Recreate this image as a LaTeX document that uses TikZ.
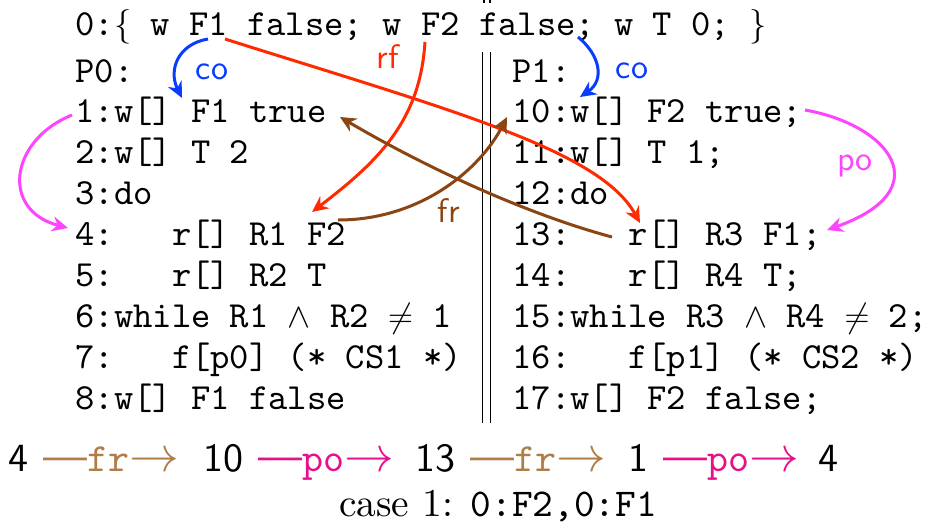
\documentclass[tikz,border=0pt]{standalone}
\usepackage{fontspec}
\setmainfont{lmroman10-regular}[Extension=.otf]
\setsansfont{lmsans10-regular}[Extension=.otf]
\setmonofont{lmmono10-regular}[Extension=.otf]
\usetikzlibrary{arrows.meta}
\definecolor{cored}{HTML}{FF2A00}
\definecolor{coblue}{HTML}{0A3CFF}
\definecolor{cobrown}{HTML}{8B4513}
\definecolor{comag}{HTML}{FF44FF}
\definecolor{botfr}{HTML}{B07D48}
\definecolor{botpo}{HTML}{E8108A}
\newcommand\codefont{\ttfamily\fontsize{18.4pt}{20pt}\selectfont}
\newcommand\labfont{\sffamily\fontsize{17pt}{19pt}\selectfont}
\newcommand\botfont{\sffamily\fontsize{20pt}{24pt}\selectfont}
\newcommand\grp[1]{{\fontsize{22pt}{26pt}\selectfont ---}\texttt{#1}{\fontsize{24.88pt}{28pt}\selectfont$\rightarrow$}}
\tikzset{
  code/.style={anchor=base west, inner sep=0pt, font=\codefont},
  lab/.style={anchor=base, inner sep=0pt, font=\labfont},
  bot/.style={anchor=base west, inner sep=0pt, font=\botfont},
  arr/.style={line width=1.5pt, -{Stealth[length=8pt,width=7.5pt]}},
  vrule/.style={line width=0.7pt, black}
}
\begin{document}
\begin{tikzpicture}[x=0.5pt,y=-0.5pt]
\useasboundingbox (0,0) rectangle (934,526);
% code
\node[code] (l0) at (75,35) {0:$\{$ w F1 false; w F2 false; w T 0; $\}$};
\node[code] (p0) at (75,82) {P0:};
\node[code] (l1) at (75,122) {1:w[] F1 true};
\node[code] (l2) at (75,163) {2:w[] T 2};
\node[code] (l3) at (75,204) {3:do};
\node[code] (l4) at (75,245) {4:\ \ \ r[] R1 F2};
\node[code] (l5) at (75,286) {5:\ \ \ r[] R2 T};
\node[code] (l6) at (75,327) {6:while R1 $\wedge$ R2 $\neq$ 1};
\node[code] (l7) at (75,368) {7:\ \ \ f[p0] (* CS1 *)};
\node[code] (l8) at (75,409) {8:w[] F1 false};
\node[code] (p1) at (512,82) {P1:};
\node[code] (l10) at (512,122) {10:w[] F2 true;};
\node[code] (l11) at (512,163) {11:w[] T 1;};
\node[code] (l12) at (512,204) {12:do};
\node[code] (l13) at (512,245) {13:\ \ \ r[] R3 F1;};
\node[code] (l14) at (512,286) {14:\ \ \ r[] R4 T;};
\node[code] (l15) at (512,327) {15:while R3 $\wedge$ R4 $\neq$ 2;};
\node[code] (l16) at (512,368) {16:\ \ \ f[p1] (* CS2 *)};
\node[code] (l17) at (512,409) {17:w[] F2 false;};
% separator
\draw[vrule] (482.5,52) -- (482.5,423);
\draw[vrule] (490.5,52) -- (490.5,423);
\draw[vrule] (484,0) -- (484,3);
\draw[vrule] (490,0) -- (490,3);
% connector end points
\coordinate (coA1) at (208,39); \coordinate (coA2) at (182,98);
\coordinate (coB1) at (578,37); \coordinate (coB2) at (580,97);
\coordinate (rfA1) at (225,39); \coordinate (rfA2) at (640,223);
\coordinate (rfB1) at (425,42); \coordinate (rfB2) at (312,212);
\coordinate (frA1) at (338,220); \coordinate (frA2) at (507,117);
\coordinate (frB1) at (612,237); \coordinate (frB2) at (340,117);
\coordinate (poA1) at (72,115); \coordinate (poA2) at (68,228);
\coordinate (poB1) at (805,110); \coordinate (poB2) at (827,230);
% connectors
\draw[arr, coblue] (coA1) .. controls (178,44) and (168,70) .. (coA2);
\draw[arr, coblue] (coB1) .. controls (600,55) and (605,80) .. (coB2);
\draw[arr, cored] (rfA1) .. controls (450,110) and (600,150) .. (rfA2);
\draw[arr, cored] (rfB1) .. controls (420,120) and (380,160) .. (rfB2);
\draw[arr, cobrown] (frA1) .. controls (420,220) and (480,170) .. (frA2);
\draw[arr, cobrown] (frB1) .. controls (530,215) and (430,170) .. (frB2);
\draw[arr, comag] (poA1) .. controls (10,140) and (0,210) .. (poA2);
\draw[arr, comag] (poB1) .. controls (890,125) and (940,190) .. (poB2);
% labels
\node[lab, coblue] (lco1) at (212,79) {co};
\node[lab, coblue] (lco2) at (632,78) {co};
\node[lab, cored] (lrf) at (388,68) {rf};
\node[lab, cobrown] (lfr) at (449,222) {fr};
\node[lab, comag] (lpo) at (855,170) {po};
% bottom line
\node[bot] (b1) at (8,471) {4};
\node[bot, botfr] (g1) at (43,471) {\grp{fr}};
\node[bot] (b2) at (203,471) {10};
\node[bot, botpo] (g2) at (258,471) {\grp{po}};
\node[bot] (b3) at (415,471) {13};
\node[bot, botfr] (g3) at (470,471) {\grp{fr}};
\node[bot] (b4) at (628,471) {1};
\node[bot, botpo] (g4) at (663,471) {\grp{po}};
\node[bot] (b5) at (818,471) {4};
\node[anchor=base, inner sep=0pt, font=\rmfamily\fontsize{19.7pt}{24pt}\selectfont] (cs) at (498,516) {case 1: \texttt{0:F2,0:F1}};
\end{tikzpicture}
\end{document}
